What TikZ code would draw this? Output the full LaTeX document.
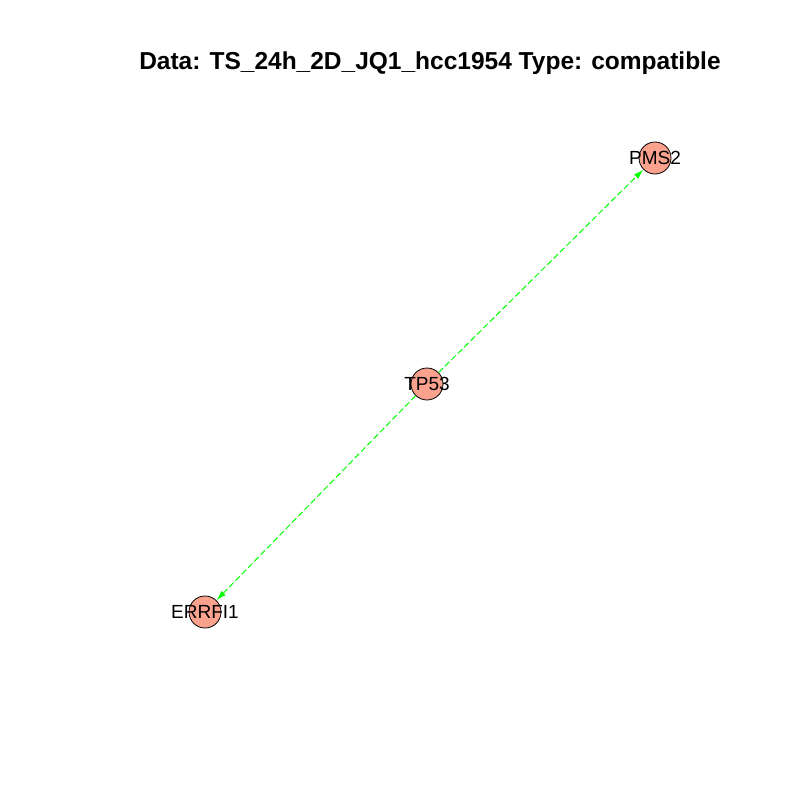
\documentclass[tikz,border=0pt]{standalone}
\usepackage{fontspec}
\setmainfont{Liberation Sans}
\usetikzlibrary{arrows.meta}
\definecolor{vfill}{RGB}{250,162,142}
\definecolor{egreen}{RGB}{0,255,0}
\tikzset{
  vertex/.style={circle,draw=black,fill=vfill,line width=0.8pt,minimum size=32pt,inner sep=0pt},
  vlabel/.style={font=\fontsize{19}{19}\selectfont,inner sep=0pt},
  edge/.style={draw=egreen,dashed,dash pattern=on 6pt off 3pt,line width=1pt,-{Latex[length=10pt,width=6pt]}}
}
\begin{document}
\begin{tikzpicture}[x=1pt,y=-1pt]
\useasboundingbox (0,0) rectangle (800,800);
\node[font=\bfseries\fontsize{24.5}{24.5}\selectfont] (title) at (430,63) {Data: TS\_24h\_2D\_JQ1\_hcc1954 Type: compatible};
\node[vertex] (PMS2) at (655,158) {};
\node[vertex] (TP53) at (427,384) {};
\node[vertex] (ERRFI1) at (205,612) {};
\draw[edge] (TP53) -- (PMS2);
\draw[edge] (TP53) -- (ERRFI1);
\node[vlabel] (lPMS2) at (PMS2.center) {PMS2};
\node[vlabel] (lTP53) at (TP53.center) {TP53};
\node[vlabel] (lERRFI1) at (ERRFI1.center) {ERRFI1};
\end{tikzpicture}
\end{document}
